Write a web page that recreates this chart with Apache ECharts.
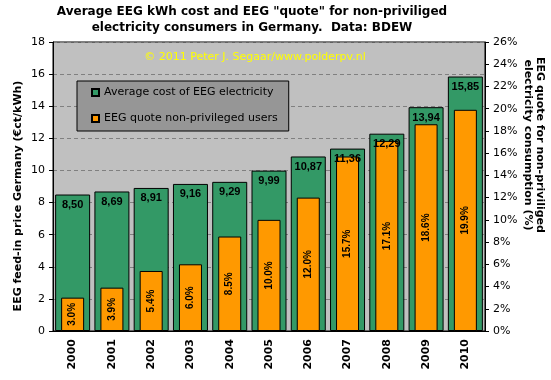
<!DOCTYPE html>
<html>
<head>
<meta charset="utf-8">
<script src="https://cdn.jsdelivr.net/npm/echarts@6/dist/echarts.min.js"></script>
<style>
html,body{margin:0;padding:0;background:#fff;}
#c{width:551px;height:380px;}
</style>
</head>
<body>
<div id="c"></div>
<script>
const years = ['2000','2001','2002','2003','2004','2005','2006','2007','2008','2009','2010'];
const avgCost = [8.50, 8.69, 8.91, 9.16, 9.29, 9.99, 10.87, 11.36, 12.29, 13.94, 15.85];
const quote = [3.0, 3.9, 5.4, 6.0, 8.5, 10.0, 12.0, 15.7, 17.1, 18.6, 19.9];
const seriesNames = ['Average cost of EEG electricity', 'EEG quote non-privileged users'];
const titleText = 'Average EEG kWh cost and EEG "quote" for non-priviliged\nelectricity consumers in Germany.  Data: BDEW';
const copyright = '\u00a9 2011 Peter J. Segaar/www.polderpv.nl';
const leftName = 'EEG feed-in price Germany (\u20acct/kWh)';
const rightName = 'EEG quote for non-priviliged\nelectricity consumption (%)';

const F = '"DejaVu Sans", Verdana, sans-serif';
const chart = echarts.init(document.getElementById('c'), null, {renderer: 'canvas'});
chart.setOption({
  backgroundColor: '#fff',
  animation: false,
  graphic: [
    {type: 'text', x: 252, y: 4, z: 10, style: {text: titleText, font: 'bold 12px ' + F, fill: '#000', align: 'center', verticalAlign: 'top', lineHeight: 16}},
    {type: 'text', x: 255, y: 57, z: 10, style: {text: copyright, font: '11px ' + F, fill: '#ffff00', align: 'center', verticalAlign: 'middle'}},
    {type: 'text', x: 18, y: 196, rotation: Math.PI / 2, z: 10, style: {text: leftName, font: 'bold 11px ' + F, fill: '#000', align: 'center', verticalAlign: 'middle'}},
    {type: 'text', x: 534, y: 145, rotation: -Math.PI / 2, z: 10, style: {text: rightName, font: 'bold 11px ' + F, fill: '#000', align: 'center', verticalAlign: 'middle', lineHeight: 12}}
  ],
  legend: {
    orient: 'vertical', left: 77, top: 81,
    backgroundColor: '#969696', borderColor: '#000', borderWidth: 1,
    padding: [6, 11, 7, 14], itemGap: 15, itemWidth: 7, itemHeight: 7,
    icon: 'rect',
    textStyle: {fontFamily: F, fontSize: 11, color: '#000'},
    data: seriesNames
  },
  grid: {left: 53, right: 66, top: 42, bottom: 49, show: true, backgroundColor: '#c0c0c0', borderColor: '#000', borderWidth: 1},
  xAxis: [
    {type: 'category', data: years,
     axisLine: {lineStyle: {color: '#000'}},
     axisTick: {length: 4, lineStyle: {color: '#000'}},
     axisLabel: {rotate: 90, fontFamily: F, fontSize: 11, fontWeight: 'bold', color: '#000', margin: 8}},
    {type: 'category', data: years, show: false}
  ],
  yAxis: [
    {type: 'value', min: 0, max: 18, interval: 2,
     axisLine: {show: true, lineStyle: {color: '#000'}},
     axisTick: {show: true, length: 4, lineStyle: {color: '#000'}},
     axisLabel: {fontFamily: F, fontSize: 11, color: '#000', margin: 8},
     splitLine: {show: true, lineStyle: {color: '#808080', type: [4, 3]}}},
    {type: 'value', min: 0, max: 26, interval: 2, position: 'right',
     axisLine: {show: true, lineStyle: {color: '#000'}},
     axisTick: {show: true, length: 4, lineStyle: {color: '#000'}},
     axisLabel: {fontFamily: F, fontSize: 11, color: '#000', margin: 8, formatter: '{value}%'},
     splitLine: {show: false}}
  ],
  series: [
    {name: seriesNames[0], type: 'bar', xAxisIndex: 0, yAxisIndex: 0, data: avgCost, barWidth: 35,
     itemStyle: {color: '#339966', borderColor: '#000', borderWidth: 1},
     label: {show: true, position: 'insideTop', distance: 5, color: '#000',
             fontFamily: '"Liberation Sans", Arial, sans-serif', fontWeight: 'bold', fontSize: 11,
             formatter: p => p.value.toFixed(2).replace('.', ',')}},
    {name: seriesNames[1], type: 'bar', xAxisIndex: 1, yAxisIndex: 1, data: quote, barWidth: 23,
     itemStyle: {color: '#ff9900', borderColor: '#000', borderWidth: 1},
     label: {show: true, position: 'inside', rotate: 90, color: '#000',
             fontFamily: '"Liberation Sans", Arial, sans-serif', fontWeight: 'bold', fontSize: 10,
             formatter: p => p.value.toFixed(1) + '%'}}
  ]
});
</script>
</body>
</html>
